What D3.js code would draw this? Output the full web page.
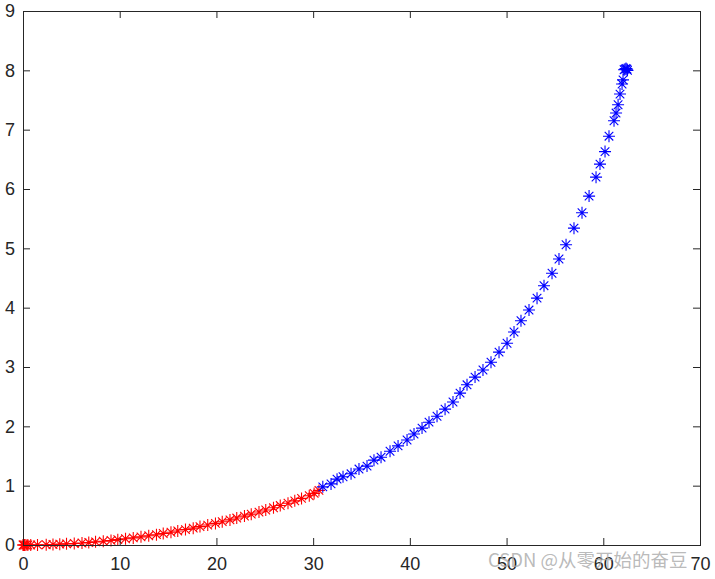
<!DOCTYPE html>
<html>
<head>
<meta charset="utf-8">
<script src="https://cdn.jsdelivr.net/npm/d3@7"></script>
<style>
  body { margin: 0; background: #fff; }
  svg { display: block; }
</style>
</head>
<body>
<svg id="chart" width="715" height="579"></svg>
<script>
// values
const redX = [0, 0.05, 0.15, 0.3, 0.5, 0.8, 1.5, 2.4, 3.1, 3.8, 4.5, 5.3, 6.1, 6.8, 7.5, 8.3, 9.1, 9.8,
  10.6, 11.4, 12.2, 13.0, 13.8, 14.5, 15.3, 16.0, 16.8, 17.6, 18.3, 19.1, 19.9, 20.6, 21.4, 22.1,
  22.9, 23.6, 24.4, 25.1, 25.9, 26.6, 27.4, 28.1, 28.8, 29.6, 30.1, 30.6];
const redY = [0, 0, 0, 0, 0.0003, 0.0006, 0.002, 0.005, 0.009, 0.014, 0.019, 0.026, 0.034, 0.043, 0.053, 0.064, 0.077, 0.09,
  0.105, 0.12, 0.137, 0.155, 0.174, 0.194, 0.215, 0.237, 0.26, 0.284, 0.31, 0.336, 0.364, 0.393, 0.423, 0.454,
  0.487, 0.52, 0.555, 0.59, 0.627, 0.665, 0.704, 0.744, 0.785, 0.83, 0.87, 0.92];

const blueX = [31.0, 31.85, 32.47, 33.09, 33.92, 34.74, 35.57, 36.29, 37.02, 37.95, 38.78, 39.71, 40.43, 41.26,
  41.98, 42.81, 43.64, 44.46, 45.19, 45.91, 46.74, 47.56, 48.39, 49.22, 50.05, 50.77, 51.49, 52.32, 53.15,
  53.87, 54.7, 55.42, 56.15, 56.97, 57.8, 58.53, 59.25, 59.66, 60.18, 60.59, 61.11, 61.32, 61.53, 61.73,
  61.94, 62.04, 62.15, 62.25, 62.35, 62.45, 62.5];
const blueY = [0.98, 1.03, 1.11, 1.15, 1.2, 1.28, 1.33, 1.43, 1.48, 1.58, 1.67, 1.77, 1.87, 1.97,
  2.07, 2.17, 2.29, 2.41, 2.56, 2.7, 2.83, 2.95, 3.08, 3.25, 3.4, 3.59, 3.78, 3.96, 4.16,
  4.37, 4.58, 4.82, 5.06, 5.34, 5.6, 5.88, 6.2, 6.42, 6.63, 6.89, 7.15, 7.28, 7.42, 7.6,
  7.77, 7.84, 8.01, 8.02, 8.03, 8.02, 8.0];

const xTicks = [0, 10, 20, 30, 40, 50, 60, 70];
const yTicks = [0, 1, 2, 3, 4, 5, 6, 7, 8, 9];

const margin = {top: 11, right: 15, bottom: 34, left: 23};
const width = 715, height = 579;
const axisColor = "#262626";

const svg = d3.select("#chart");

const x = d3.scaleLinear().domain([0, 70]).range([margin.left, width - margin.right]);
const y = d3.scaleLinear().domain([0, 9]).range([height - margin.bottom, margin.top]);

// asterisk marker like matlab '*'
const star = "M-6,0H6M0,-6V6M-4.3,-4.3L4.3,4.3M-4.3,4.3L4.3,-4.3";

function drawSeries(xs, ys, color) {
  svg.append("g")
    .selectAll("path")
    .data(xs.map((d, i) => [d, ys[i]]))
    .join("path")
    .attr("d", star)
    .attr("transform", d => `translate(${x(d[0])},${y(d[1])})`)
    .attr("fill", "none")
    .attr("stroke", color)
    .attr("stroke-width", 1.1);
}

drawSeries(redX, redY, "#ff0000");
drawSeries(blueX, blueY, "#0000ff");

// axes, ticks inward on all four sides
function styleAxis(g) {
  g.select(".domain").remove();
  g.selectAll(".tick line").attr("stroke", axisColor);
  g.selectAll(".tick text")
    .attr("fill", axisColor)
    .style("font-family", "'Liberation Sans', Arial, sans-serif")
    .style("font-size", "18px");
}

svg.append("g")
  .attr("transform", `translate(0,${height - margin.bottom})`)
  .call(d3.axisBottom(x).tickValues(xTicks).tickSize(-7).tickPadding(12).tickFormat(d3.format("d")))
  .call(styleAxis);

svg.append("g")
  .attr("transform", `translate(0,${margin.top})`)
  .call(d3.axisTop(x).tickValues(xTicks).tickSize(-7).tickFormat(""))
  .call(styleAxis);

svg.append("g")
  .attr("transform", `translate(${margin.left},0)`)
  .call(d3.axisLeft(y).tickValues(yTicks).tickSize(-7).tickPadding(8).tickFormat(d3.format("d")))
  .call(styleAxis);

svg.append("g")
  .attr("transform", `translate(${width - margin.right},0)`)
  .call(d3.axisRight(y).tickValues(yTicks).tickSize(-7).tickFormat(""))
  .call(styleAxis);

svg.append("rect")
  .attr("x", x(0) + 0.5)
  .attr("y", y(9) + 0.5)
  .attr("width", x(70) - x(0))
  .attr("height", y(0) - y(9))
  .attr("fill", "none")
  .attr("stroke", axisColor)
  .attr("stroke-width", 1);

// watermark
svg.append("text")
  .attr("x", 488)
  .attr("y", 567)
  .attr("fill", "#a8a8a8")
  .attr("fill-opacity", 0.8)
  .style("font-family", "'Noto Sans CJK SC', 'Liberation Sans', sans-serif")
  .style("font-size", "18.5px")
  .text("CSDN @从零开始的奋豆");
</script>
</body>
</html>
